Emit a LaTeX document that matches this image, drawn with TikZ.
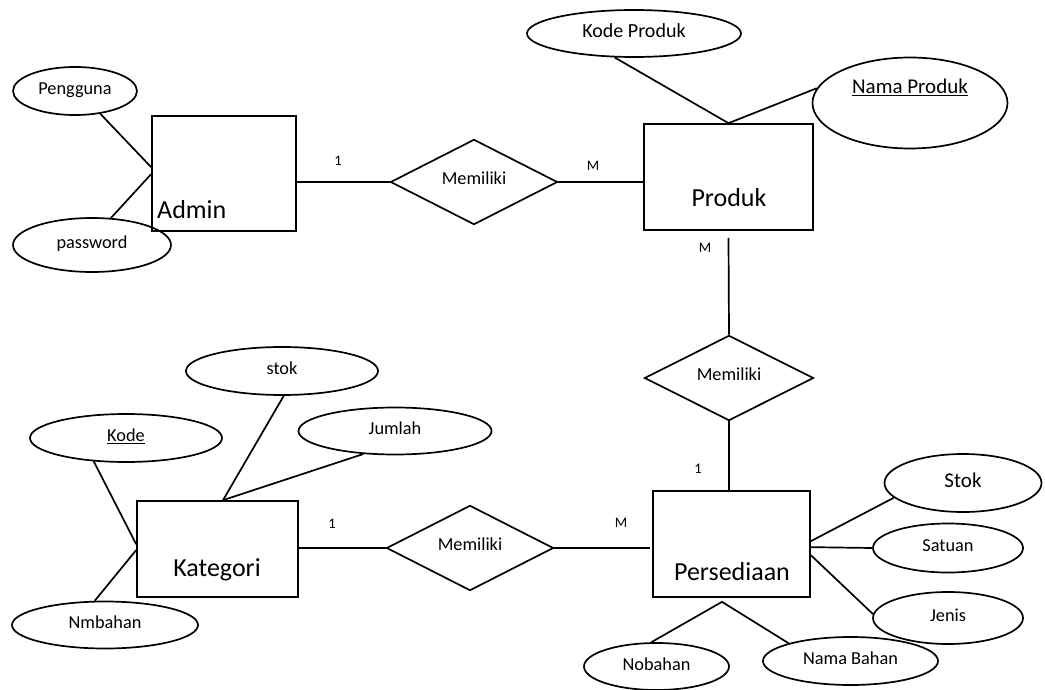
\documentclass[tikz,border=0pt]{standalone}
\usepackage{fontspec}
\setmainfont{Carlito}
\usetikzlibrary{shapes.geometric}
\tikzset{
  lw/.style={line width=1.7pt},
  entity/.style={draw, lw, rectangle, inner sep=0pt},
  etext/.style={font=\fontsize{26}{28}\selectfont, inner sep=0pt},
  attr/.style={draw, lw, ellipse, inner sep=0pt, font=\fontsize{18.3}{20}\selectfont, text depth=5pt},
  rel/.style={draw, lw, diamond, inner sep=0pt, font=\fontsize{18.3}{20}\selectfont, text depth=8pt},
  card/.style={font=\fontsize{14.5}{16}\selectfont, inner sep=0pt},
  conn/.style={lw}
}
\begin{document}
\begin{tikzpicture}[x=1pt, y=-1pt]
\useasboundingbox (0,0) rectangle (1045,690);

% entities
\node[entity, minimum width=144pt, minimum height=115pt] (admin) at (224,173.5) {};
\node[etext, anchor=west] (admintext) at (157,210) {Admin};
\node[entity, minimum width=169pt, minimum height=106pt] (produk) at (728.5,177) {};
\node[etext] (produktext) at (729,198) {Produk};
\node[entity, minimum width=161pt, minimum height=96pt] (kategori) at (217.5,549) {};
\node[etext] (kategoritext) at (217,570) {Kategori};
\node[entity, minimum width=157pt, minimum height=106pt] (persediaan) at (731.5,544) {};
\node[etext] (persediaantext) at (732,572) {Persediaan};

% relationships
\node[rel, minimum width=167pt, minimum height=73pt] (d1) at (474,182) {Memiliki};
\node[rel, minimum width=169pt, minimum height=72pt] (d2) at (729,378) {Memiliki};
\node[rel, minimum width=167pt, minimum height=71pt] (d3) at (470,548) {Memiliki};

% attributes
\node[attr, minimum width=124pt, minimum height=48pt] (pengguna) at (75,91) {Pengguna};
\node[attr, minimum width=158pt, minimum height=54pt] (password) at (92,245) {password};
\node[attr, minimum width=214pt, minimum height=47pt, font=\fontsize{20}{22}\selectfont] (kodeproduk) at (634,33.5) {Kode Produk};
\node[attr, minimum width=195pt, minimum height=91pt] (namaproduk) at (910,103) {};
\node[inner sep=0pt, font=\fontsize{21}{23}\selectfont] (namaproduktext) at (910,87) {\underline{Nama Produk}};
\node[attr, minimum width=192pt, minimum height=48pt] (stok) at (282,371) {stok};
\node[attr, minimum width=193pt, minimum height=47pt] (jumlah) at (395,431) {Jumlah};
\node[attr, minimum width=192pt, minimum height=48pt] (kode) at (126,438) {\underline{Kode}};
\node[attr, minimum width=186pt, minimum height=47pt] (nmbahan) at (105,625) {Nmbahan};
\node[attr, minimum width=157pt, minimum height=58pt, font=\fontsize{21}{23}\selectfont] (stokp) at (963,483) {Stok};
\node[attr, minimum width=150pt, minimum height=49pt] (satuan) at (948,548) {Satuan};
\node[attr, minimum width=150pt, minimum height=52pt] (jenis) at (948,618) {Jenis};
\node[attr, minimum width=145pt, minimum height=47pt] (nobahan) at (656.5,666.5) {Nobahan};
\node[attr, minimum width=175pt, minimum height=48pt] (namabahan) at (850.5,661) {Nama Bahan};

% cardinalities
\node[card] (c1) at (338,161) {1};
\node[card] (c2) at (593,166) {M};
\node[card] (c3) at (705,248) {M};
\node[card] (c4) at (698,469) {1};
\node[card] (c5) at (332,524) {1};
\node[card] (c6) at (621,523) {M};

% relationship connectors
\draw[conn] (d1.west -| admin.east) -- (d1.west);
\draw[conn] (d1.east) -- (d1.east -| produk.west);
\draw[conn] ([yshift=-7pt]produk.south) -- (d2.north);
\draw[conn] (d2.south) -- (d2.south |- persediaan.north);
\draw[conn] (d3.west -| kategori.east) -- (d3.west);
\draw[conn] (d3.east) -- ([xshift=-2pt]d3.east -| persediaan.west);

% attribute connectors
\draw[conn] (pengguna.318) -- ([yshift=-52pt]admin.north west);
\draw[conn] (password.55) -- ([yshift=-59pt]admin.north west);
\draw[conn] (kodeproduk.231) -- (produk.north);
\draw[conn] (namaproduk.171) -- (produk.north);
\draw[conn] (stok.274) -- ([xshift=5.5pt]kategori.north);
\draw[conn] (jumlah.216) -- ([xshift=5.5pt]kategori.north);
\draw[conn] (kode.216) -- ([yshift=-44pt]kategori.north west);
\draw[conn] (nmbahan.113) -- ([yshift=-50pt]kategori.north west);
\draw[conn] (stokp.192) -- ([yshift=-51pt]persediaan.north east);
\draw[conn] (satuan.180) -- ([yshift=-57pt]persediaan.north east);
\draw[conn] (jenis.177) -- ([yshift=-65pt]persediaan.north east);
\coordinate (apex) at ([xshift=-9.5pt,yshift=-4pt]persediaan.south);
\draw[conn] (nobahan.102) -- (apex);
\draw[conn] (namabahan.164) -- (apex);
\end{tikzpicture}
\end{document}
